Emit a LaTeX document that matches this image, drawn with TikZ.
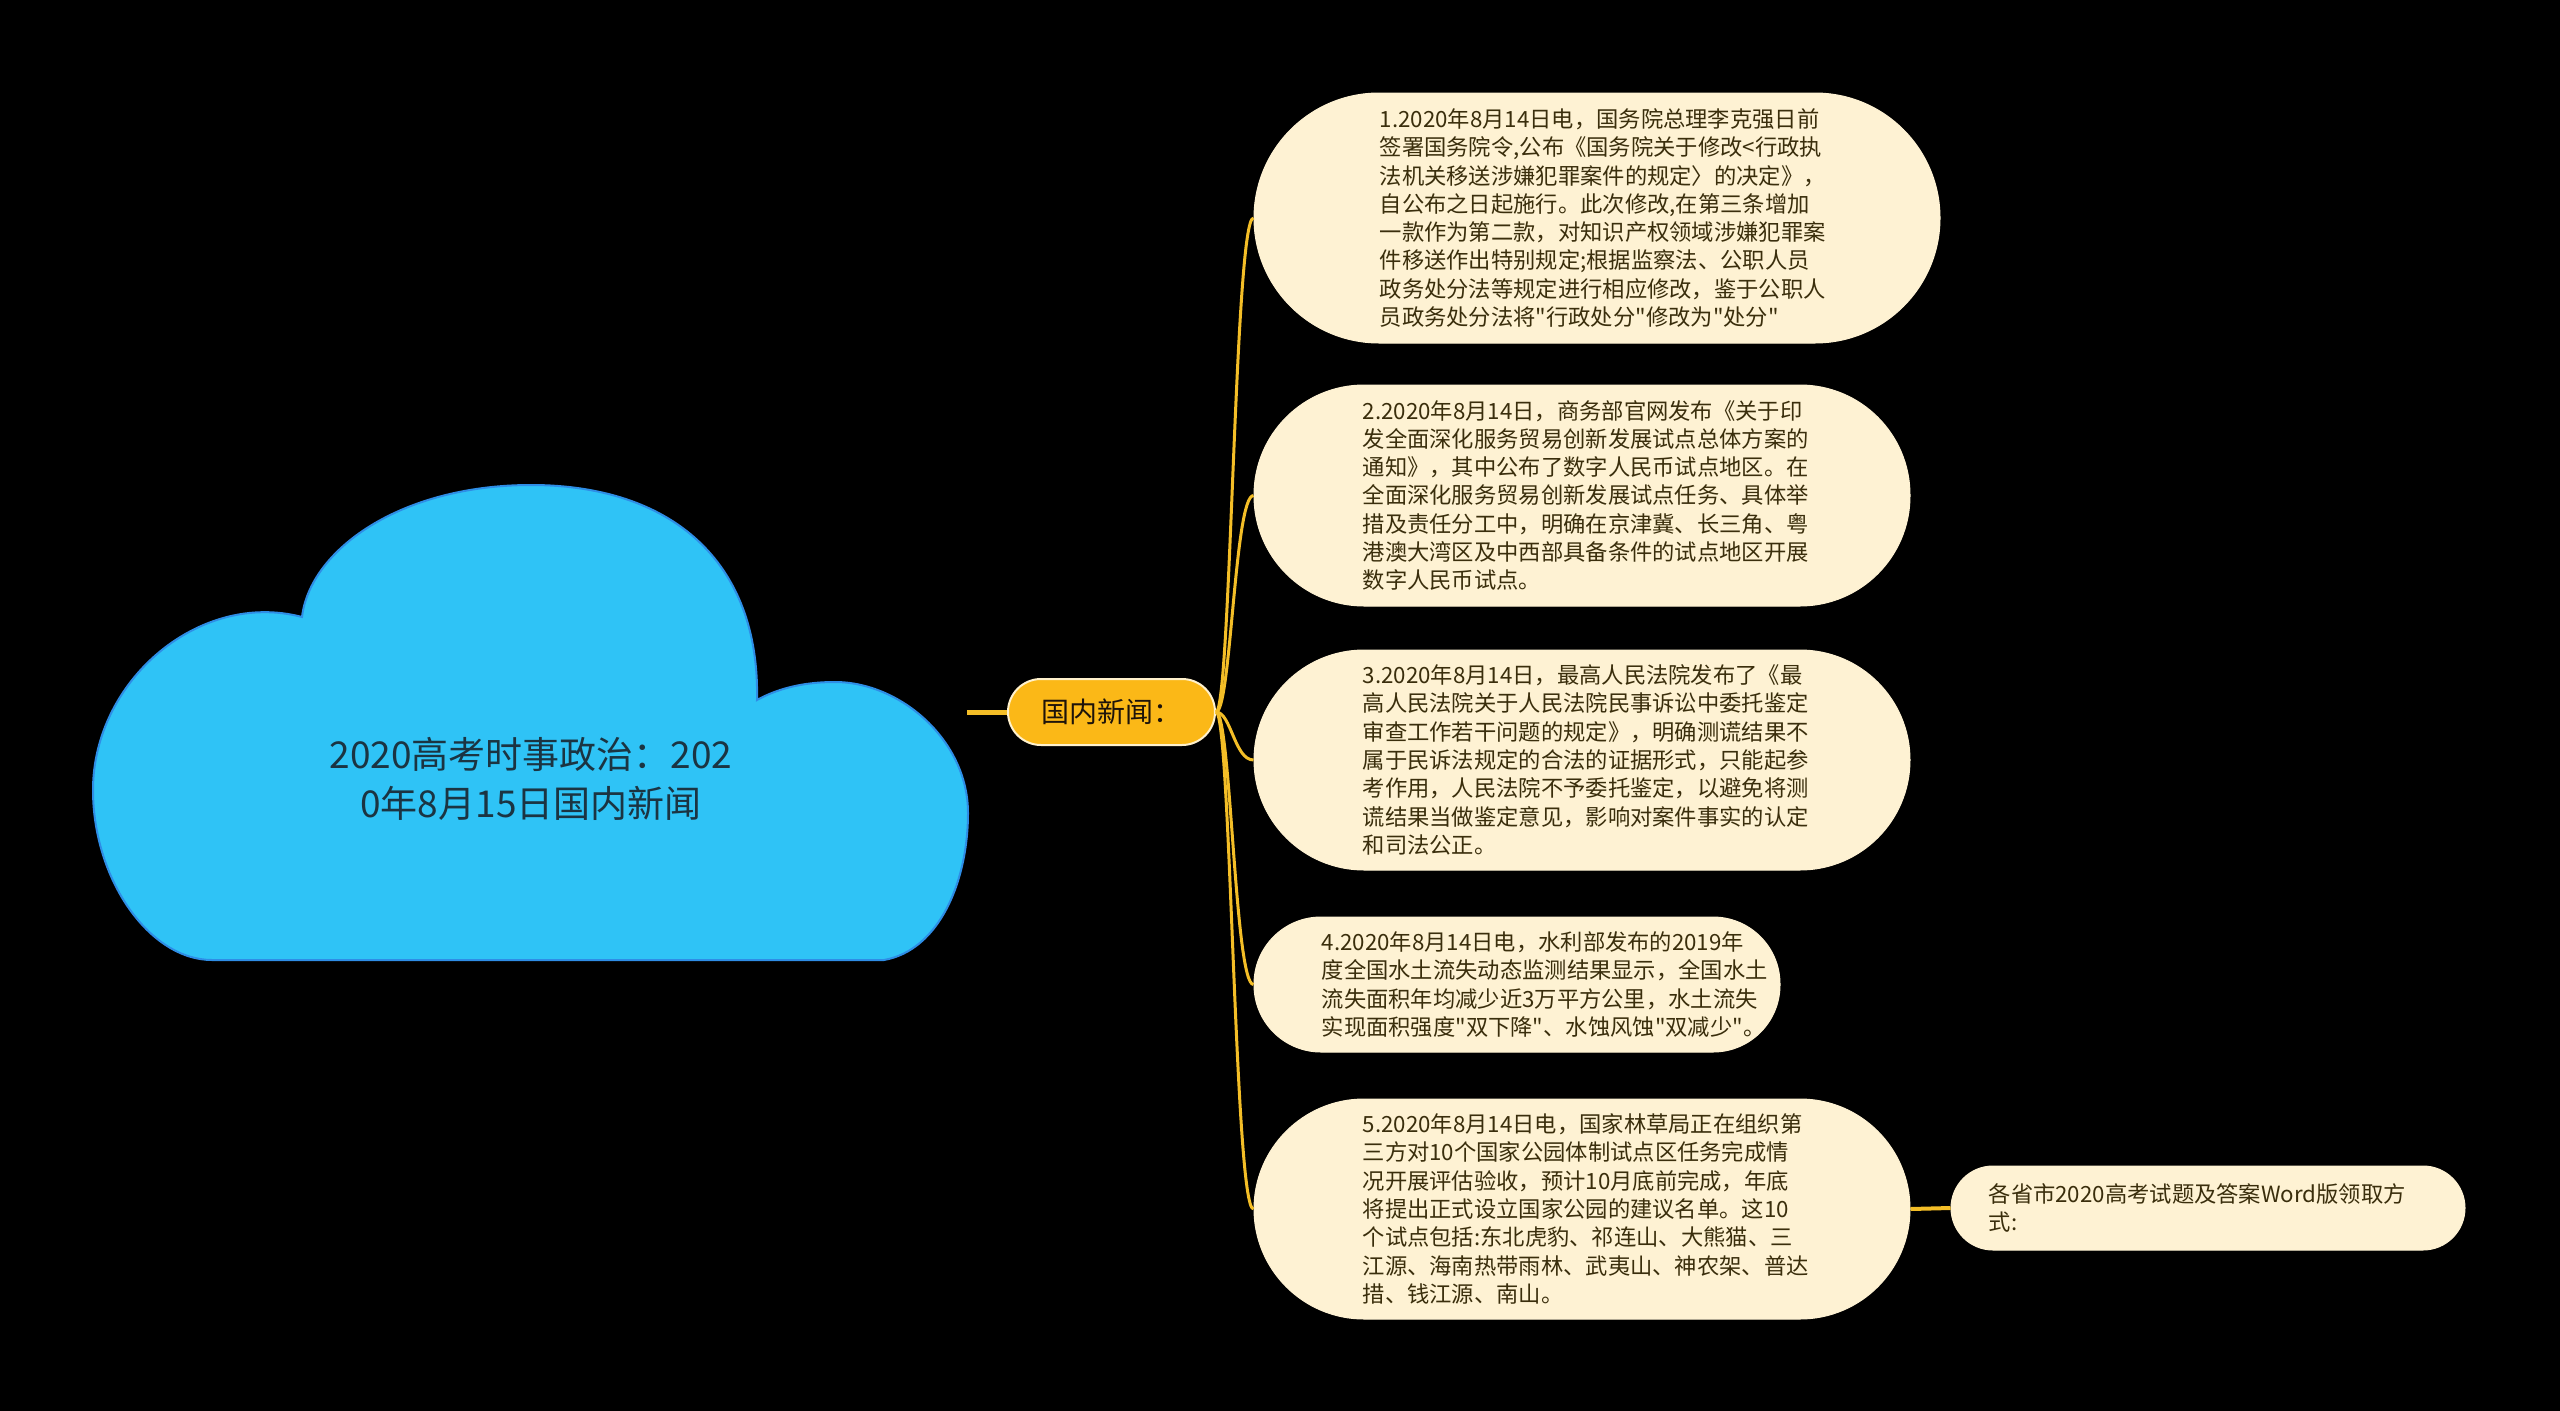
\documentclass[tikz,border=0pt]{standalone}
\usepackage{fontspec}
\setmainfont{Noto Sans CJK SC}[Ligatures=TeXOff]
\definecolor{cloudc}{HTML}{2FC3F6}
\definecolor{cloudb}{HTML}{2E8DE6}
\definecolor{mainc}{HTML}{FBB817}
\definecolor{mainb}{HTML}{FFF1CC}
\definecolor{leafc}{HTML}{FEF2D3}
\definecolor{leaftxt}{HTML}{3A2E0C}
\definecolor{connc}{HTML}{F4BE27}
\definecolor{roottxt}{HTML}{1B3442}
\begin{document}
\begin{tikzpicture}[x=1pt,y=-1pt,
  leafbox/.style={rectangle, fill=leafc, draw=leafc, line width=1pt, inner sep=0pt},
  leaftext/.style={anchor=west, align=left, inner sep=0pt, text=leaftxt,
     font=\fontsize{22.3}{28.3}\selectfont},
  conn/.style={draw=connc, line width=3pt},
  mainbox/.style={rectangle, fill=mainc, draw=mainb, line width=2pt, inner sep=0pt,
     minimum width=207pt, minimum height=66pt, rounded corners=33pt, text=black!85!brown,
     font=\fontsize{28}{34}\selectfont},
  roottext/.style={align=center, inner sep=0pt, text=roottxt,
     font=\fontsize{37}{49}\selectfont}]
\useasboundingbox (0,0) rectangle (2560,1411);
\fill[black] (0,0) rectangle (2560,1411);

% cloud
\filldraw[fill=cloudc, draw=cloudb, line width=2pt]
  (212,960) -- (884,960)
  .. controls (940,950) and (968,880) .. (968,813)
  .. controls (968,740) and (900,682) .. (835,682)
  .. controls (800,682) and (775,690) .. (757,700)
  .. controls (760,560) and (670,485) .. (531,485)
  .. controls (400,485) and (310,550) .. (302,617)
  .. controls (200,590) and (93,680) .. (93,790)
  .. controls (93,880) and (150,960) .. (212,960) -- cycle;
\node[roottext] (root) at (531,779) {2020高考时事政治：202\\0年8月15日国内新闻};

% main topic
\node[mainbox] (main) at (1111.5,712) {国内新闻：};
\coordinate (rootend) at (967,712);
\draw[conn, line width=5pt] (rootend) -- (main.west);

% leaf boxes
\node[leafbox, minimum width=686pt, minimum height=250pt, rounded corners=125pt] (b1) at (1597,218) {};
\node[leafbox, minimum width=656pt, minimum height=221pt, rounded corners=110pt] (b2) at (1582,495.5) {};
\node[leafbox, minimum width=656pt, minimum height=220pt, rounded corners=110pt] (b3) at (1582,760) {};
\node[leafbox, minimum width=526pt, minimum height=135pt, rounded corners=67pt] (b4) at (1517,984.5) {};
\node[leafbox, minimum width=656pt, minimum height=220pt, rounded corners=110pt] (b5) at (1582,1209) {};
\node[leafbox, minimum width=514pt, minimum height=84pt, rounded corners=42pt] (b6) at (2208,1208) {};

% leaf texts
\node[leaftext] (t1) at ([xshift=126pt]b1.west) {1.2020年8月14日电，国务院总理李克强日前\\签署国务院令,公布《国务院关于修改<行政执\\法机关移送涉嫌犯罪案件的规定〉的决定》，\\自公布之日起施行。此次修改,在第三条增加\\一款作为第二款，对知识产权领域涉嫌犯罪案\\件移送作出特别规定;根据监察法、公职人员\\政务处分法等规定进行相应修改，鉴于公职人\\员政务处分法将"行政处分"修改为"处分"};
\node[leaftext] (t2) at ([xshift=109pt]b2.west) {2.2020年8月14日，商务部官网发布《关于印\\发全面深化服务贸易创新发展试点总体方案的\\通知》，其中公布了数字人民币试点地区。在\\全面深化服务贸易创新发展试点任务、具体举\\措及责任分工中，明确在京津冀、长三角、粤\\港澳大湾区及中西部具备条件的试点地区开展\\数字人民币试点。};
\node[leaftext] (t3) at ([xshift=109pt]b3.west) {3.2020年8月14日，最高人民法院发布了《最\\高人民法院关于人民法院民事诉讼中委托鉴定\\审查工作若干问题的规定》，明确测谎结果不\\属于民诉法规定的合法的证据形式，只能起参\\考作用，人民法院不予委托鉴定，以避免将测\\谎结果当做鉴定意见，影响对案件事实的认定\\和司法公正。};
\node[leaftext] (t4) at ([xshift=68pt]b4.west) {4.2020年8月14日电，水利部发布的2019年\\度全国水土流失动态监测结果显示，全国水土\\流失面积年均减少近3万平方公里，水土流失\\实现面积强度"双下降"、水蚀风蚀"双减少"。};
\node[leaftext] (t5) at ([xshift=109pt]b5.west) {5.2020年8月14日电，国家林草局正在组织第\\三方对10个国家公园体制试点区任务完成情\\况开展评估验收，预计10月底前完成，年底\\将提出正式设立国家公园的建议名单。这10\\个试点包括:东北虎豹、祁连山、大熊猫、三\\江源、海南热带雨林、武夷山、神农架、普达\\措、钱江源、南山。};
\node[leaftext] (t6) at ([xshift=38pt]b6.west) {各省市2020高考试题及答案Word版领取方\\式:};

% connectors
\foreach \b in {b1,b2,b3,b4,b5}{
  \draw[conn] (main.east) .. controls +(15,0) and +(-19,0) .. (\b.west);
}
\draw[conn, line width=4pt] (b5.east) -- (b6.west);
\end{tikzpicture}
\end{document}
